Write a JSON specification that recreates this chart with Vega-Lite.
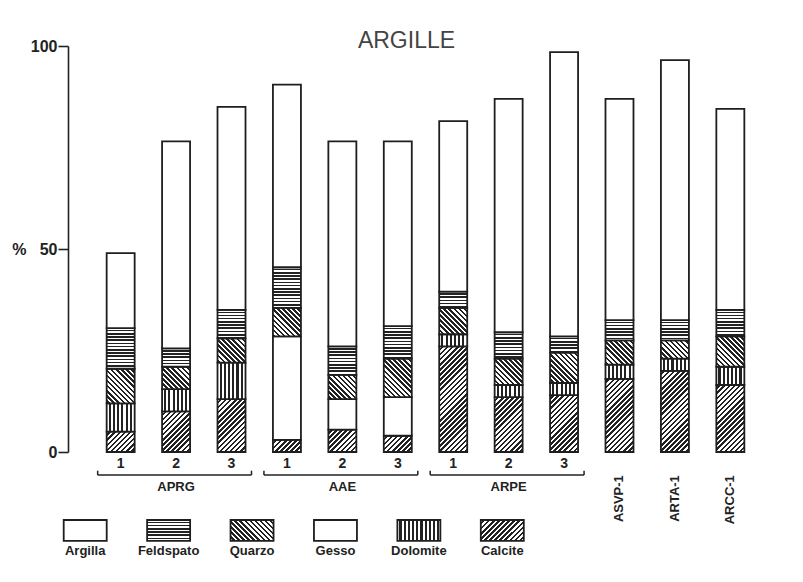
{
  "$schema": "https://vega.github.io/schema/vega-lite/v6.json",
  "width": 715,
  "height": 406,
  "autosize": {"type": "none"},
  "padding": {"left": 68, "top": 46, "right": 20, "bottom": 130},
  "background": "white",
  "config": {"view": {"stroke": null}},
  "title": {
    "text": "ARGILLE",
    "font": "Liberation Sans, Arial, sans-serif",
    "fontSize": 23,
    "fontWeight": "normal",
    "color": "#444",
    "anchor": "middle",
    "frame": "group",
    "baseline": "alphabetic",
    "offset": -33,
    "dx": -19
  },
  "params": [
    {
      "name": "hatch",
      "value": [
        {"offset": 0, "color": "#fff"}, {"offset": 0.0167, "color": "#fff"}, {"offset": 0.0167, "color": "#222"}, {"offset": 0.0333, "color": "#222"},
        {"offset": 0.0333, "color": "#fff"}, {"offset": 0.05, "color": "#fff"}, {"offset": 0.05, "color": "#222"}, {"offset": 0.0667, "color": "#222"},
        {"offset": 0.0667, "color": "#fff"}, {"offset": 0.0833, "color": "#fff"}, {"offset": 0.0833, "color": "#222"}, {"offset": 0.1, "color": "#222"},
        {"offset": 0.1, "color": "#fff"}, {"offset": 0.1167, "color": "#fff"}, {"offset": 0.1167, "color": "#222"}, {"offset": 0.1333, "color": "#222"},
        {"offset": 0.1333, "color": "#fff"}, {"offset": 0.15, "color": "#fff"}, {"offset": 0.15, "color": "#222"}, {"offset": 0.1667, "color": "#222"},
        {"offset": 0.1667, "color": "#fff"}, {"offset": 0.1833, "color": "#fff"}, {"offset": 0.1833, "color": "#222"}, {"offset": 0.2, "color": "#222"},
        {"offset": 0.2, "color": "#fff"}, {"offset": 0.2167, "color": "#fff"}, {"offset": 0.2167, "color": "#222"}, {"offset": 0.2333, "color": "#222"},
        {"offset": 0.2333, "color": "#fff"}, {"offset": 0.25, "color": "#fff"}, {"offset": 0.25, "color": "#222"}, {"offset": 0.2667, "color": "#222"},
        {"offset": 0.2667, "color": "#fff"}, {"offset": 0.2833, "color": "#fff"}, {"offset": 0.2833, "color": "#222"}, {"offset": 0.3, "color": "#222"},
        {"offset": 0.3, "color": "#fff"}, {"offset": 0.3167, "color": "#fff"}, {"offset": 0.3167, "color": "#222"}, {"offset": 0.3333, "color": "#222"},
        {"offset": 0.3333, "color": "#fff"}, {"offset": 0.35, "color": "#fff"}, {"offset": 0.35, "color": "#222"}, {"offset": 0.3667, "color": "#222"},
        {"offset": 0.3667, "color": "#fff"}, {"offset": 0.3833, "color": "#fff"}, {"offset": 0.3833, "color": "#222"}, {"offset": 0.4, "color": "#222"},
        {"offset": 0.4, "color": "#fff"}, {"offset": 0.4167, "color": "#fff"}, {"offset": 0.4167, "color": "#222"}, {"offset": 0.4333, "color": "#222"},
        {"offset": 0.4333, "color": "#fff"}, {"offset": 0.45, "color": "#fff"}, {"offset": 0.45, "color": "#222"}, {"offset": 0.4667, "color": "#222"},
        {"offset": 0.4667, "color": "#fff"}, {"offset": 0.4833, "color": "#fff"}, {"offset": 0.4833, "color": "#222"}, {"offset": 0.5, "color": "#222"},
        {"offset": 0.5, "color": "#fff"}, {"offset": 0.5167, "color": "#fff"}, {"offset": 0.5167, "color": "#222"}, {"offset": 0.5333, "color": "#222"},
        {"offset": 0.5333, "color": "#fff"}, {"offset": 0.55, "color": "#fff"}, {"offset": 0.55, "color": "#222"}, {"offset": 0.5667, "color": "#222"},
        {"offset": 0.5667, "color": "#fff"}, {"offset": 0.5833, "color": "#fff"}, {"offset": 0.5833, "color": "#222"}, {"offset": 0.6, "color": "#222"},
        {"offset": 0.6, "color": "#fff"}, {"offset": 0.6167, "color": "#fff"}, {"offset": 0.6167, "color": "#222"}, {"offset": 0.6333, "color": "#222"},
        {"offset": 0.6333, "color": "#fff"}, {"offset": 0.65, "color": "#fff"}, {"offset": 0.65, "color": "#222"}, {"offset": 0.6667, "color": "#222"},
        {"offset": 0.6667, "color": "#fff"}, {"offset": 0.6833, "color": "#fff"}, {"offset": 0.6833, "color": "#222"}, {"offset": 0.7, "color": "#222"},
        {"offset": 0.7, "color": "#fff"}, {"offset": 0.7167, "color": "#fff"}, {"offset": 0.7167, "color": "#222"}, {"offset": 0.7333, "color": "#222"},
        {"offset": 0.7333, "color": "#fff"}, {"offset": 0.75, "color": "#fff"}, {"offset": 0.75, "color": "#222"}, {"offset": 0.7667, "color": "#222"},
        {"offset": 0.7667, "color": "#fff"}, {"offset": 0.7833, "color": "#fff"}, {"offset": 0.7833, "color": "#222"}, {"offset": 0.8, "color": "#222"},
        {"offset": 0.8, "color": "#fff"}, {"offset": 0.8167, "color": "#fff"}, {"offset": 0.8167, "color": "#222"}, {"offset": 0.8333, "color": "#222"},
        {"offset": 0.8333, "color": "#fff"}, {"offset": 0.85, "color": "#fff"}, {"offset": 0.85, "color": "#222"}, {"offset": 0.8667, "color": "#222"},
        {"offset": 0.8667, "color": "#fff"}, {"offset": 0.8833, "color": "#fff"}, {"offset": 0.8833, "color": "#222"}, {"offset": 0.9, "color": "#222"},
        {"offset": 0.9, "color": "#fff"}, {"offset": 0.9167, "color": "#fff"}, {"offset": 0.9167, "color": "#222"}, {"offset": 0.9333, "color": "#222"},
        {"offset": 0.9333, "color": "#fff"}, {"offset": 0.95, "color": "#fff"}, {"offset": 0.95, "color": "#222"}, {"offset": 0.9667, "color": "#222"},
        {"offset": 0.9667, "color": "#fff"}, {"offset": 0.9833, "color": "#fff"}, {"offset": 0.9833, "color": "#222"}, {"offset": 1, "color": "#222"}
      ]
    }
  ],
  "datasets": {
    "campioni": [
      {"campione": "APRG 1", "minerale": "Calcite", "val": 5},
      {"campione": "APRG 1", "minerale": "Dolomite", "val": 7},
      {"campione": "APRG 1", "minerale": "Quarzo", "val": 8.5},
      {"campione": "APRG 1", "minerale": "Feldspato", "val": 10},
      {"campione": "APRG 1", "minerale": "Argilla", "val": 18.5},
      {"campione": "APRG 2", "minerale": "Calcite", "val": 10},
      {"campione": "APRG 2", "minerale": "Dolomite", "val": 5.5},
      {"campione": "APRG 2", "minerale": "Quarzo", "val": 5.5},
      {"campione": "APRG 2", "minerale": "Feldspato", "val": 4.5},
      {"campione": "APRG 2", "minerale": "Argilla", "val": 51},
      {"campione": "APRG 3", "minerale": "Calcite", "val": 13},
      {"campione": "APRG 3", "minerale": "Dolomite", "val": 9},
      {"campione": "APRG 3", "minerale": "Quarzo", "val": 6},
      {"campione": "APRG 3", "minerale": "Feldspato", "val": 7},
      {"campione": "APRG 3", "minerale": "Argilla", "val": 50},
      {"campione": "AAE 1", "minerale": "Calcite", "val": 3},
      {"campione": "AAE 1", "minerale": "Gesso", "val": 25.5},
      {"campione": "AAE 1", "minerale": "Quarzo", "val": 7},
      {"campione": "AAE 1", "minerale": "Feldspato", "val": 10},
      {"campione": "AAE 1", "minerale": "Argilla", "val": 45},
      {"campione": "AAE 2", "minerale": "Calcite", "val": 5.5},
      {"campione": "AAE 2", "minerale": "Gesso", "val": 7.5},
      {"campione": "AAE 2", "minerale": "Quarzo", "val": 6},
      {"campione": "AAE 2", "minerale": "Feldspato", "val": 7},
      {"campione": "AAE 2", "minerale": "Argilla", "val": 50.5},
      {"campione": "AAE 3", "minerale": "Calcite", "val": 4},
      {"campione": "AAE 3", "minerale": "Gesso", "val": 9.5},
      {"campione": "AAE 3", "minerale": "Quarzo", "val": 9.5},
      {"campione": "AAE 3", "minerale": "Feldspato", "val": 8},
      {"campione": "AAE 3", "minerale": "Argilla", "val": 45.5},
      {"campione": "ARPE 1", "minerale": "Calcite", "val": 26},
      {"campione": "ARPE 1", "minerale": "Dolomite", "val": 3},
      {"campione": "ARPE 1", "minerale": "Quarzo", "val": 6.5},
      {"campione": "ARPE 1", "minerale": "Feldspato", "val": 4},
      {"campione": "ARPE 1", "minerale": "Argilla", "val": 42},
      {"campione": "ARPE 2", "minerale": "Calcite", "val": 13.5},
      {"campione": "ARPE 2", "minerale": "Dolomite", "val": 3},
      {"campione": "ARPE 2", "minerale": "Quarzo", "val": 6.5},
      {"campione": "ARPE 2", "minerale": "Feldspato", "val": 6.5},
      {"campione": "ARPE 2", "minerale": "Argilla", "val": 57.5},
      {"campione": "ARPE 3", "minerale": "Calcite", "val": 14},
      {"campione": "ARPE 3", "minerale": "Dolomite", "val": 3},
      {"campione": "ARPE 3", "minerale": "Quarzo", "val": 7.5},
      {"campione": "ARPE 3", "minerale": "Feldspato", "val": 4},
      {"campione": "ARPE 3", "minerale": "Argilla", "val": 70},
      {"campione": "ASVP-1", "minerale": "Calcite", "val": 18},
      {"campione": "ASVP-1", "minerale": "Dolomite", "val": 3.5},
      {"campione": "ASVP-1", "minerale": "Quarzo", "val": 6},
      {"campione": "ASVP-1", "minerale": "Feldspato", "val": 5},
      {"campione": "ASVP-1", "minerale": "Argilla", "val": 54.5},
      {"campione": "ARTA-1", "minerale": "Calcite", "val": 20},
      {"campione": "ARTA-1", "minerale": "Dolomite", "val": 3},
      {"campione": "ARTA-1", "minerale": "Quarzo", "val": 4.5},
      {"campione": "ARTA-1", "minerale": "Feldspato", "val": 5},
      {"campione": "ARTA-1", "minerale": "Argilla", "val": 64},
      {"campione": "ARCC-1", "minerale": "Calcite", "val": 16.5},
      {"campione": "ARCC-1", "minerale": "Dolomite", "val": 4.5},
      {"campione": "ARCC-1", "minerale": "Quarzo", "val": 7.5},
      {"campione": "ARCC-1", "minerale": "Feldspato", "val": 6.5},
      {"campione": "ARCC-1", "minerale": "Argilla", "val": 49.5}
    ],
    "gruppi": [
      {"gruppo": "APRG", "primo": "APRG 1", "centro": "APRG 2", "ultimo": "APRG 3"},
      {"gruppo": "AAE", "primo": "AAE 1", "centro": "AAE 2", "ultimo": "AAE 3"},
      {"gruppo": "ARPE", "primo": "ARPE 1", "centro": "ARPE 2", "ultimo": "ARPE 3"}
    ],
    "legenda": [
      {"minerale": "Argilla"},
      {"minerale": "Feldspato"},
      {"minerale": "Quarzo"},
      {"minerale": "Gesso"},
      {"minerale": "Dolomite"},
      {"minerale": "Calcite"}
    ]
  },
  "layer": [
    {
      "layer": [
        {
          "data": {"name": "campioni"},
          "transform": [{"stack": "val", "groupby": ["campione"], "as": ["y0", "y1"]}],
          "mark": {
            "type": "bar",
            "size": 28,
            "stroke": "#1e1e1e",
            "strokeWidth": 1.8,
            "fill": {"expr": "datum.minerale === 'Feldspato' ? {gradient: 'linear', x1: 0, y1: 0, x2: 0, y2: 96 / (4.06 * datum.val), stops: hatch} : datum.minerale === 'Dolomite' ? {gradient: 'linear', x1: 0, y1: 0, x2: 4.5, y2: 0, stops: hatch} : datum.minerale === 'Quarzo' ? {gradient: 'linear', x1: 1, y1: 0, x2: 1 - 4275.6 / (784 + pow(4.06 * datum.val, 2)), y2: 152.7 * 4.06 * datum.val / (784 + pow(4.06 * datum.val, 2)), stops: hatch} : datum.minerale === 'Calcite' ? {gradient: 'linear', x1: 0, y1: 0, x2: 4275.6 / (784 + pow(4.06 * datum.val, 2)), y2: 152.7 * 4.06 * datum.val / (784 + pow(4.06 * datum.val, 2)), stops: hatch} : 'white'"}
          },
          "encoding": {
            "x": {
              "field": "campione",
              "type": "nominal",
              "scale": {
                "domain": ["APRG 1", "APRG 2", "APRG 3", "AAE 1", "AAE 2", "AAE 3", "ARPE 1", "ARPE 2", "ARPE 3", "ASVP-1", "ARTA-1", "ARCC-1"],
                "paddingInner": 0,
                "paddingOuter": 0.45
              },
              "axis": {
                "title": null,
                "domain": false,
                "ticks": false,
                "tickSize": 0,
                "labelPadding": 4,
                "labelAngle": 0,
                "labelBaseline": "top",
                "labelFont": "Liberation Sans, Arial, sans-serif",
                "labelFontSize": 14,
                "labelFontWeight": "bold",
                "labelColor": "#222",
                "labelExpr": "indexof(datum.value, ' ') > 0 ? split(datum.value, ' ')[1] : ''"
              }
            },
            "y": {
              "field": "y0",
              "type": "quantitative",
              "scale": {"domain": [0, 100], "nice": false},
              "axis": {
                "title": null,
                "values": [0, 50, 100],
                "grid": false,
                "domainColor": "#222",
                "domainWidth": 1.6,
                "tickColor": "#222",
                "tickWidth": 1.6,
                "tickSize": 10,
                "labelPadding": 1,
                "labelFont": "Liberation Sans, Arial, sans-serif",
                "labelFontSize": 16,
                "labelFontWeight": "bold",
                "labelColor": "#222",
                "labelExpr": "datum.value == 50 ? '%\u00a0\u00a0\u00a050' : datum.label"
              }
            },
            "y2": {"field": "y1"}
          }
        },
        {
          "data": {"name": "gruppi"},
          "mark": {"type": "rule", "stroke": "#222", "strokeWidth": 1.5, "xOffset": -23, "x2Offset": 20},
          "encoding": {
            "x": {"field": "primo", "type": "nominal"},
            "x2": {"field": "ultimo"},
            "y": {"datum": -5.67, "type": "quantitative"}
          }
        },
        {
          "data": {"name": "gruppi"},
          "mark": {"type": "rule", "stroke": "#222", "strokeWidth": 1.5, "xOffset": -23},
          "encoding": {
            "x": {"field": "primo", "type": "nominal"},
            "y": {"datum": -5.67, "type": "quantitative"},
            "y2": {"datum": -4.6}
          }
        },
        {
          "data": {"name": "gruppi"},
          "mark": {"type": "rule", "stroke": "#222", "strokeWidth": 1.5, "xOffset": 20},
          "encoding": {
            "x": {"field": "ultimo", "type": "nominal"},
            "y": {"datum": -5.67, "type": "quantitative"},
            "y2": {"datum": -4.6}
          }
        },
        {
          "data": {"name": "gruppi"},
          "mark": {
            "type": "text",
            "font": "Liberation Sans, Arial, sans-serif",
            "fontSize": 13,
            "fontWeight": "bold",
            "color": "#222",
            "baseline": "middle"
          },
          "encoding": {
            "x": {"field": "centro", "type": "nominal"},
            "y": {"datum": -8.6, "type": "quantitative"},
            "text": {"field": "gruppo"}
          }
        },
        {
          "data": {"name": "campioni"},
          "transform": [{"filter": "datum.minerale === 'Argilla' && indexof(datum.campione, ' ') < 0"}],
          "mark": {
            "type": "text",
            "angle": 270,
            "align": "right",
            "baseline": "middle",
            "font": "Liberation Sans, Arial, sans-serif",
            "fontSize": 13,
            "fontWeight": "bold",
            "color": "#222"
          },
          "encoding": {
            "x": {"field": "campione", "type": "nominal"},
            "y": {"datum": -5.7, "type": "quantitative"},
            "text": {"field": "campione"}
          }
        }
      ]
    },
    {
      "data": {"name": "legenda"},
      "layer": [
        {
          "mark": {
            "type": "bar",
            "size": 43,
            "stroke": "#1e1e1e",
            "strokeWidth": 1.8,
            "fill": {"expr": "datum.minerale === 'Feldspato' ? {gradient: 'linear', x1: 0, y1: 0, x2: 0, y2: 4.571, stops: hatch} : datum.minerale === 'Dolomite' ? {gradient: 'linear', x1: 0, y1: 0, x2: 2.93, y2: 0, stops: hatch} : datum.minerale === 'Quarzo' ? {gradient: 'linear', x1: 1, y1: 0, x2: -1.867, y2: 1.4, stops: hatch} : datum.minerale === 'Calcite' ? {gradient: 'linear', x1: 0, y1: 0, x2: 2.867, y2: 1.4, stops: hatch} : 'white'"}
          },
          "encoding": {
            "x": {
              "field": "minerale",
              "type": "nominal",
              "axis": null,
              "scale": {
                "domain": ["Argilla", "Feldspato", "Quarzo", "Gesso", "Dolomite", "Calcite"],
                "range": [-24.5, 476],
                "paddingInner": 0,
                "paddingOuter": 0
              }
            },
            "y": {"datum": -16.75, "type": "quantitative"},
            "y2": {"datum": -21.9}
          }
        },
        {
          "mark": {
            "type": "text",
            "font": "Liberation Sans, Arial, sans-serif",
            "fontSize": 13,
            "fontWeight": "bold",
            "color": "#222",
            "baseline": "middle"
          },
          "encoding": {
            "x": {"field": "minerale", "type": "nominal", "axis": null},
            "y": {"datum": -24.4, "type": "quantitative"},
            "text": {"field": "minerale"}
          }
        }
      ]
    }
  ],
  "resolve": {"scale": {"x": "independent"}}
}
